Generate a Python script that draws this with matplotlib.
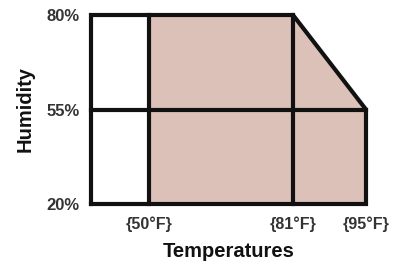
import matplotlib
matplotlib.use("Agg")
import matplotlib.pyplot as plt
import numpy as np

# Data
temps = [50, 81, 95]
temp_labels = ["{50°F}", "{81°F}", "{95°F}"]
temp_min = 38
humidity_labels = ["20%", "55%", "80%"]
hum_idx = [0, 1, 2]

plt.rcParams['font.family'] = ['Liberation Sans', 'DejaVu Sans']

fig = plt.figure(figsize=(3.99, 2.68), dpi=100)
ax = fig.add_axes([91/399, 1-204/268, (366-91)/399, (204-15)/268])

# piecewise-linear temperature scale (the original axis is not uniform)
t_knots = np.array([temp_min] + temps, dtype=float)
u_knots = np.array([0.0, 58.0, 202.0, 275.0])
def fwd(t):
    return np.interp(t, t_knots, u_knots, left=None, right=None)
def inv(u):
    return np.interp(u, u_knots, t_knots)
ax.set_xscale('function', functions=(fwd, inv))

fill_c = "#dcc1b8"
lw = 3.0
ax.fill([temps[0], temps[0], temps[1], temps[2], temps[2]],
        [hum_idx[0], hum_idx[2], hum_idx[2], hum_idx[1], hum_idx[0]],
        color=fill_c, lw=0, zorder=1)
ax.plot([temp_min, temp_min, temps[1], temps[2], temps[2], temp_min],
        [hum_idx[0], hum_idx[2], hum_idx[2], hum_idx[1], hum_idx[0], hum_idx[0]],
        color="#111111", lw=lw, solid_joinstyle="miter", clip_on=False, zorder=3)
ax.plot([temps[0], temps[0]], [hum_idx[0], hum_idx[2]], color="#111111", lw=lw, clip_on=False, zorder=3)
ax.plot([temps[1], temps[1]], [hum_idx[0], hum_idx[2]], color="#111111", lw=lw, clip_on=False, zorder=3)
ax.plot([temp_min, temps[2]], [hum_idx[1], hum_idx[1]], color="#111111", lw=lw, clip_on=False, zorder=3)

ax.set_xlim(temp_min, temps[2])
ax.set_ylim(hum_idx[0], hum_idx[2])
for s in ax.spines.values():
    s.set_visible(False)
ax.set_xticks(temps)
ax.set_xticklabels(temp_labels, fontsize=11.5, fontweight="bold", color="#333333")
ax.set_yticks(hum_idx)
ax.set_yticklabels(humidity_labels, fontsize=12, fontweight="bold", color="#333333")
ax.tick_params(axis='x', length=0, pad=9)
ax.tick_params(axis='y', length=0, pad=8.4)
ax.set_xlabel("Temperatures", fontsize=14.5, fontweight="bold", color="#111111", labelpad=7)
ax.set_ylabel("Humidity", fontsize=14.5, fontweight="bold", color="#111111", labelpad=8)

fig.savefig("out.png", dpi=100)
